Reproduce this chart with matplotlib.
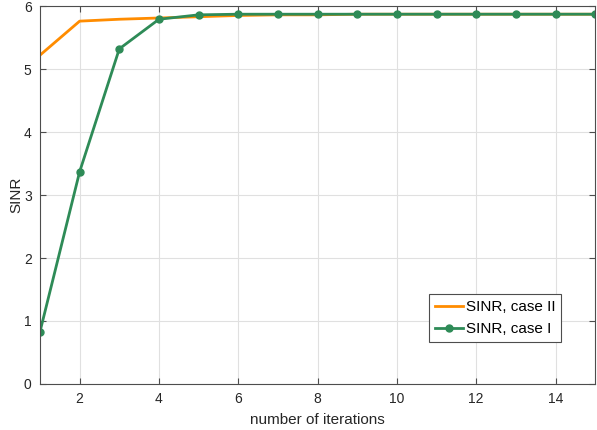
import matplotlib
matplotlib.use("Agg")
import matplotlib.pyplot as plt

plt.rcParams['font.family'] = ['Liberation Sans', 'DejaVu Sans']

iterations = list(range(1, 16))
sinr_case2 = [5.22, 5.76, 5.79, 5.81, 5.83, 5.85, 5.86, 5.86, 5.87, 5.87, 5.87, 5.87, 5.87, 5.87, 5.87]
sinr_case1 = [0.83, 3.37, 5.32, 5.79, 5.86, 5.87, 5.87, 5.87, 5.87, 5.87, 5.87, 5.87, 5.87, 5.87, 5.87]

fig = plt.figure(figsize=(5.97, 4.30), dpi=100)
ax = fig.add_axes([0.067, 0.107, 0.93, 0.879])

ax.plot(iterations, sinr_case2, color='#FF8C00', linewidth=2, label='SINR, case II')
ax.plot(iterations, sinr_case1, color='#2E8B57', linewidth=2, marker='o', markersize=5,
        label='SINR, case I')

ax.set_xlim(1, 15)
ax.set_ylim(0, 6)
ax.set_xticks([2, 4, 6, 8, 10, 12, 14])
ax.set_yticks([0, 1, 2, 3, 4, 5, 6])
ax.grid(True, color='#E0E0E0', linewidth=0.8)
ax.tick_params(direction='in', top=True, right=True, labelsize=10, colors='#262626',
               length=4, width=0.8, pad=6)
ax.tick_params(axis='both', color='#4D4D4D')
for s in ax.spines.values():
    s.set_color('#4D4D4D')
    s.set_linewidth(0.8)
ax.set_xlabel('number of iterations', fontsize=11, color='#262626', labelpad=5)
ax.set_ylabel('SINR', fontsize=11, color='#262626', labelpad=0)

leg = ax.legend(loc='lower right', bbox_to_anchor=(0.939, 0.111), fontsize=11,
                fancybox=False, framealpha=1, edgecolor='#4D4D4D', borderpad=0.4,
                handlelength=1.8, handletextpad=0.2, labelspacing=0.5, borderaxespad=0)
leg.get_frame().set_linewidth(0.8)

fig.savefig('out.png', dpi=100)
